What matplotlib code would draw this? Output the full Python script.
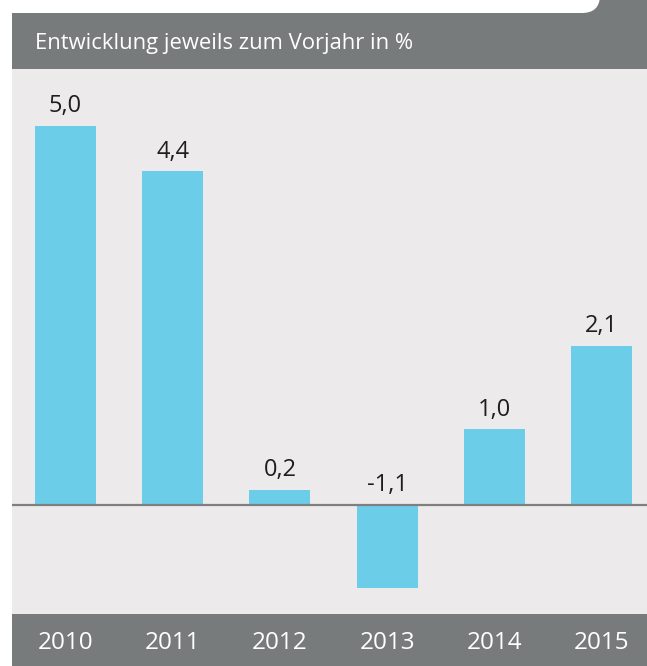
import matplotlib
matplotlib.use('Agg')
import matplotlib.pyplot as plt
from matplotlib.patches import Rectangle, FancyBboxPatch

plt.rcParams['font.family'] = ['Open Sans', 'DejaVu Sans']

# data
years = ['2010', '2011', '2012', '2013', '2014', '2015']
values = [5.0, 4.4, 0.2, -1.1, 1.0, 2.1]
title = 'Entwicklung jeweils zum Vorjahr in %'

bar_color = '#6ccde8'
gray = '#787b7b'
panel = '#edeaeb'

W, H = 647, 666
fig = plt.figure(figsize=(W / 100, H / 100), dpi=100)
fig.patch.set_facecolor('white')

# background decoration in pixel coordinates
bg = fig.add_axes([0, 0, 1, 1])
bg.set_xlim(0, W)
bg.set_ylim(H, 0)
bg.axis('off')
bg.add_patch(Rectangle((560, 0), W - 560, 14, color=gray, lw=0, zorder=1))
bg.add_patch(FancyBboxPatch((-100, -100), 700, 113,
                            boxstyle='round,pad=0,rounding_size=18',
                            fc='white', ec='none', zorder=2))
bg.add_patch(Rectangle((12, 13), W - 12, 56, color=gray, lw=0, zorder=3))
bg.add_patch(Rectangle((12, 69), W - 12, 545, color=panel, lw=0, zorder=3))
bg.add_patch(Rectangle((12, 614), W - 12, 52, color=gray, lw=0, zorder=3))
bg.text(35, 43, title, color='white', fontsize=15.8, va='center', ha='left', zorder=4)

# bar chart axes
x0, x1 = 12, 647
y_top, y_bot = 69, 614
ax = fig.add_axes([x0 / W, 1 - y_bot / H, (x1 - x0) / W, (y_bot - y_top) / H])
ax.patch.set_alpha(0)
unit_y = 75.8
zero_y = 505
ax.set_ylim(-(y_bot - zero_y) / unit_y, (zero_y - y_top) / unit_y)
step = 107.2
first = 65.5
ax.set_xlim((x0 - first) / step, (x1 - first) / step)
for s in ax.spines.values():
    s.set_visible(False)
ax.set_xticks([])
ax.set_yticks([])

xs = list(range(len(years)))
ax.bar(xs, values, width=0.57, color=bar_color, zorder=2)
ax.axhline(0, color='#7f7f7f', lw=1.6, zorder=3)

for x, v in zip(xs, values):
    lab = ('%.1f' % v).replace('.', ',')
    ypos = max(v, 0) + 0.1
    ax.text(x, ypos, lab, ha='center', va='bottom', fontsize=17, color='#1e1e1e')
    ax.text(x, -(643 - zero_y) / unit_y, years[x], ha='center', va='center',
            fontsize=17.5, color='white', clip_on=False)

fig.savefig('out.png', dpi=100, facecolor='white')
